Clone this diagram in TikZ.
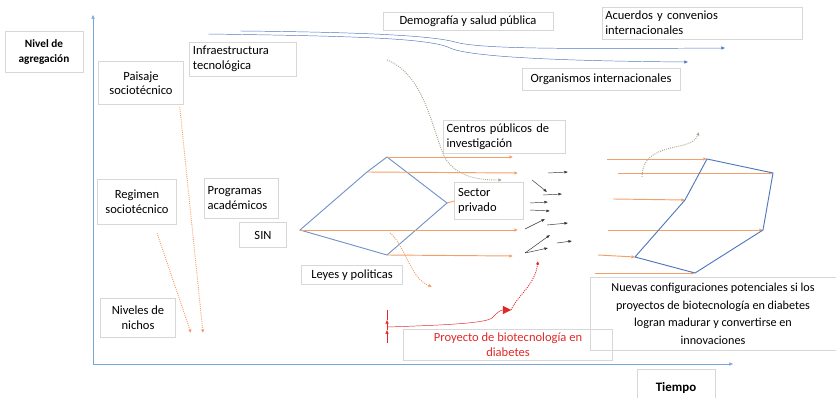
\documentclass[tikz,border=0pt]{standalone}
\usepackage{fontspec}
\setmainfont{Carlito}
\usetikzlibrary{arrows.meta}
\definecolor{axisblue}{RGB}{120,165,215}
\definecolor{lineblue}{RGB}{80,120,190}
\definecolor{orng}{RGB}{242,160,105}
\definecolor{boxgray}{RGB}{215,215,215}
\definecolor{dotgray}{RGB}{160,170,140}
\definecolor{projred}{RGB}{225,40,40}
\begin{document}
\begin{tikzpicture}[x=0.03cm,y=-0.03cm]
            \tikzstyle{every node}=[font=\fontsize{10.7}{12.8}\selectfont,inner sep=3pt]
            \tikzstyle{box}=[draw=boxgray,align=center]
            \tikzstyle{lbox}=[draw=boxgray,align=left]
            \tikzstyle{title}=[box,font=\fontsize{9.6}{12}\selectfont\bfseries]
            \tikzstyle{orarrow}=[orng,thick,-{Latex[length=3pt,width=3pt]}]
            \tikzstyle{blk}=[black!80,-{Latex[length=3pt,width=2.5pt]}]
            \useasboundingbox (0,0) rectangle (836,398);
            % boxes
            \node [title,minimum width=2.34cm,minimum height=1.23cm] (nivel) at (44,52) {Nivel de\\agregación};
            \node [box,font=\fontsize{10.7}{12.3}\selectfont,minimum width=2.55cm,minimum height=1.29cm] (paisaje) at (141,83) {Paisaje\\sociotécnico};
            \node [lbox,text width=3.0cm,minimum height=1.02cm] (infra) at (243,59) {Infraestructura\\tecnológica};
            \node [box,minimum width=2.37cm,minimum height=1.35cm] (regimen) at (137,202) {Regimen\\sociotécnico};
            \node [lbox,text width=2.0cm,minimum height=1.2cm] (programas) at (241,198) {Programas\\académicos};
            \node [box,minimum width=1.41cm,minimum height=0.75cm] (sin) at (263,235) {SIN};
            \node [box,minimum width=2.25cm,minimum height=1.17cm] (nichos) at (138,318) {Niveles de\\nichos};
            \node [box,minimum width=5.1cm,minimum height=0.54cm] (demog) at (468,21) {Demografía y salud pública};
            \node [lbox,text width=5.8cm,minimum height=0.96cm] (acuerdos) at (702,23) {Acuerdos y convenios\\internacionales};
            \node [box,minimum width=4.74cm,minimum height=0.66cm] (organismos) at (601,79) {Organismos internacionales};
            \node [lbox,text width=3.45cm,minimum height=0.9cm] (centros) at (504,137) {Centros públicos de\\investigación};
            \node [lbox,text width=1.85cm,minimum height=1.11cm] (sector) at (489,201) {Sector\\privado};
            \node [box,minimum width=3.03cm,minimum height=0.57cm] (leyes) at (352,275) {Leyes y politicas};
            \node [box,text=projred,minimum width=6.27cm,minimum height=0.9cm] (proyecto) at (508,345) {Proyecto de biotecnología en\\diabetes};
            \node [box,font=\fontsize{10.4}{15}\selectfont,minimum width=7.38cm,minimum height=2.19cm] (nuevas) at (713,314) {Nuevas configuraciones potenciales si los\\proyectos de biotecnología en diabetes\\logran madurar y convertirse en\\innovaciones};
            \node [title,font=\fontsize{11}{13}\selectfont\bfseries,minimum width=2.34cm,minimum height=1.1cm] (tiempo) at (676,388) {Tiempo};
            % axes
            \coordinate (o) at (93,364);
            \coordinate (ytop) at (93,15);
            \coordinate (xend) at (733,364);
            \draw[axisblue,-{Latex[length=3pt,width=3pt]}] (o) -- (ytop);
            \draw[axisblue,-{Latex[length=3pt,width=3pt]}] (o) -- (xend);
            % landscape trends
            \coordinate (a1) at (240,31);
            \coordinate (a2) at (725,48);
            \coordinate (b1) at (208,34);
            \coordinate (b2) at (688,62);
            \draw[lineblue,-{Latex[length=3pt,width=3pt]}] (a1) .. controls (350,32) and (430,35) .. (455,42) .. controls (480,49) and (560,49) .. (a2);
            \draw[lineblue,-{Latex[length=3pt,width=3pt]}] (b1) .. controls (350,36) and (430,38) .. (450,48) .. controls (470,57) and (560,61) .. (b2);
            % dotted drops
            \coordinate (p1) at (203,333);
            \coordinate (r0) at (157,233);
            \coordinate (r1) at (191,333);
            \draw[orng,thick,densely dotted,-{Latex[length=3pt,width=3pt]}] (paisaje.south east) ++(-4,2) -- (p1);
            \draw[orng,thick,densely dotted,-{Latex[length=3pt,width=3pt]}] (r0) -- (r1);
            \coordinate (g0) at (387,60);
            \coordinate (g1) at (502,180);
            \draw[dotgray,thick,densely dotted,-{Latex[length=3pt,width=3pt]}] (g0) .. controls (425,75) and (432,130) .. (445,158) .. controls (458,178) and (480,180) .. (g1);
            % regime diamond
            \coordinate (dl) at (300,230);
            \coordinate (dk) at (367,172);
            \coordinate (dt) at (387,157);
            \coordinate (dr) at (447,203);
            \coordinate (db) at (387,255);
            \draw[lineblue!80,thick] (dl) -- (dk) -- (dt) -- (dr) -- (db) -- cycle;
            \coordinate (e1) at (513,157);
            \coordinate (e2) at (518,173);
            \coordinate (e3) at (518,230);
            \coordinate (e4) at (513,256);
            \draw[orarrow] (dt) -- (e1);
            \draw[orarrow] (dk) -- (e2);
            \draw[orarrow] (dl) -- (e3);
            \draw[orarrow] (db) -- (e4);
            \draw[orng,thick] (dr) -- (sector.west);
            \coordinate (l0) at (390,233);
            \coordinate (l1) at (432,287);
            \draw[orng,thick,densely dotted,-{Latex[length=3pt,width=3pt]}] (l0) .. controls (405,245) and (410,278) .. (l1);
            % scattered small arrows
            \foreach \i/\xa/\ya/\xb/\yb in {1/548/173/568/172, 2/532/180/547/192, 3/543/195/562/194,
              4/530/203/548/202, 5/530/210/550/211, 6/525/229/545/219, 7/547/225/568/223,
              8/525/253/550/235, 9/525/253/548/248, 10/557/243/572/241}
            {
              \coordinate (s\i) at (\xa,\ya);
              \coordinate (t\i) at (\xb,\yb);
              \draw[blk] (s\i) -- (t\i);
            }
            % biotech project
            \coordinate (v0) at (387,343);
            \coordinate (v1) at (387,330);
            \coordinate (v2) at (387,320);
            \coordinate (v3) at (387,310);
            \draw[projred,-{Latex[length=3pt,width=3pt]}] (v0) -- (v1);
            \draw[projred,-{Latex[length=3pt,width=3pt]}] (v1) -- (v2);
            \draw[projred] (v2) -- (v3);
            \coordinate (q0) at (387,327);
            \coordinate (q1) at (511,310);
            \coordinate (q2) at (538,261);
            \draw[projred,-{Triangle[length=7pt,width=7pt]}] (q0) .. controls (450,325) and (485,323) .. (492,318) .. controls (497,313) and (500,310) .. (q1);
            \draw[projred,thick,densely dotted,-{Latex[length=3pt,width=3pt]}] (q1) .. controls (518,295) and (535,285) .. (q2);
            % new configuration
            \coordinate (n1) at (707,159);
            \coordinate (n2) at (773,173);
            \coordinate (n3) at (763,230);
            \coordinate (n4) at (695,273);
            \coordinate (n5) at (635,257);
            \coordinate (n6) at (685,200);
            \coordinate (m1) at (607,159);
            \coordinate (m2) at (618,173);
            \coordinate (m3) at (608,230);
            \coordinate (m4) at (595,273);
            \coordinate (m5) at (598,255);
            \coordinate (m6) at (613,199);
            \draw[orarrow] (m1) -- (n1);
            \draw[orarrow] (m2) -- (n2);
            \draw[orarrow] (m3) -- (n3);
            \draw[orarrow] (m4) -- (n4);
            \draw[orarrow] (m5) -- (n5);
            \draw[orarrow] (m6) -- (n6);
            \draw[lineblue,thick] (n1) -- (n2) -- (n3) -- (n4) -- (n5) -- (n6) -- cycle;
            \coordinate (h0) at (642,177);
            \coordinate (h1) at (699,132);
            \draw[dotgray,thick,densely dotted,-{Latex[length=3pt,width=3pt]}] (h0) .. controls (642,155) and (660,150) .. (680,146) .. controls (692,143) and (696,140) .. (h1);
        \end{tikzpicture}
\end{document}
